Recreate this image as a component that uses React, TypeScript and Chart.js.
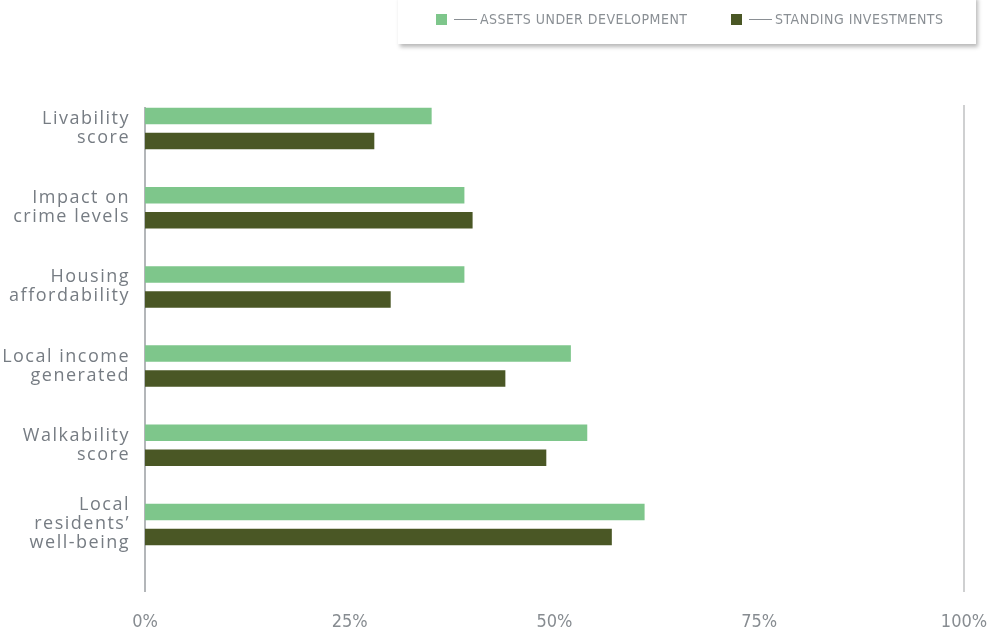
import React, { useEffect, useRef } from "react";
import { Chart, registerables } from "chart.js";

Chart.register(...registerables);

const categories: string[][] = [
  ["Livability", "score"],
  ["Impact on", "crime levels"],
  ["Housing", "affordability"],
  ["Local income", "generated"],
  ["Walkability", "score"],
  ["Local", "residents’", "well-being"],
];
const assetsUnderDevelopment = [35, 39, 39, 52, 54, 61];
const standingInvestments = [28, 40, 30, 44, 49, 57];
const xTicks = [0, 25, 50, 75, 100];
const seriesNames = ["ASSETS UNDER DEVELOPMENT", "STANDING INVESTMENTS"];
const seriesColors = ["#7ec68b", "#4a5725"];

const LABEL_COLOR = "#767c83";

const decorPlugin = {
  id: "decor",
  beforeDatasetsDraw(chart: any) {
    const { ctx, chartArea, scales } = chart;
    const x0 = scales.x.getPixelForValue(0);
    const x1 = scales.x.getPixelForValue(100);
    ctx.save();
    ctx.lineWidth = 1.5;
    ctx.strokeStyle = "#9a9ea2";
    ctx.beginPath();
    ctx.moveTo(x0, chartArea.top + 18);
    ctx.lineTo(x0, chartArea.bottom + 28);
    ctx.stroke();
    ctx.lineWidth = 2;
    ctx.strokeStyle = "#cfd0d1";
    ctx.beginPath();
    ctx.moveTo(x1, chartArea.top + 16);
    ctx.lineTo(x1, chartArea.bottom + 28);
    ctx.stroke();
    ctx.restore();
  },
  afterDraw(chart: any) {
    const { ctx, chartArea, scales } = chart;
    const y = scales.y;
    ctx.save();
    ctx.font = '18px "Open Sans", sans-serif';
    (ctx as any).letterSpacing = "1.5px";
    ctx.fillStyle = LABEL_COLOR;
    ctx.textAlign = "right";
    ctx.textBaseline = "alphabetic";
    const lh = 19;
    categories.forEach((lines, i) => {
      const c = y.getPixelForValue(i);
      const n = lines.length;
      lines.forEach((line, j) => {
        const by = c + (j - (n - 1) / 2) * lh + 5;
        ctx.fillText(line, chartArea.left - 15, by);
      });
    });
    ctx.restore();
  },
};

export default function App() {
  const ref = useRef<HTMLCanvasElement | null>(null);

  useEffect(() => {
    document.body.style.margin = "0";
    const canvas = ref.current;
    if (!canvas) return;
    const chart = new Chart(canvas, {
      type: "bar",
      data: {
        labels: categories.map((c) => c.join(" ")),
        datasets: [
          {
            label: seriesNames[0],
            data: assetsUnderDevelopment,
            backgroundColor: seriesColors[0],
            categoryPercentage: 0.632,
            barPercentage: 0.66,
          },
          {
            label: seriesNames[1],
            data: standingInvestments,
            backgroundColor: seriesColors[1],
            categoryPercentage: 0.632,
            barPercentage: 0.66,
          },
        ],
      },
      options: {
        indexAxis: "y",
        responsive: false,
        animation: false,
        layout: { padding: { top: 89, right: 28, left: 0, bottom: 0 } },
        plugins: {
          legend: { display: false },
          tooltip: { enabled: false },
        },
        scales: {
          x: {
            min: 0,
            max: 100,
            afterBuildTicks(scale: any) {
              scale.ticks = xTicks.map((v) => ({ value: v }));
            },
            afterFit(scale: any) {
              scale.height = 71;
              scale.paddingLeft = 0;
              scale.paddingRight = 0;
            },
            grid: { display: false },
            border: { display: false },
            ticks: {
              padding: 40,
              color: "#878c91",
              font: { family: '"Liberation Sans Narrow", "DejaVu Sans Condensed", sans-serif', size: 18 },
              callback: (v: any) => v + "%",
              maxRotation: 0,
            },
          },
          y: {
            afterFit(scale: any) {
              scale.width = 145;
              scale.paddingTop = 0;
              scale.paddingBottom = 0;
            },
            grid: { display: false },
            border: { display: false },
            ticks: { display: false },
          },
        },
      },
      plugins: [decorPlugin],
    });
    return () => chart.destroy();
  }, []);

  const legendText: React.CSSProperties = {
    fontFamily: '"Liberation Sans Narrow", "DejaVu Sans Condensed", sans-serif',
    fontSize: 14,
    letterSpacing: "0.5px",
    color: "#8a8f94",
    whiteSpace: "nowrap",
  };
  const dash: React.CSSProperties = {
    display: "inline-block",
    width: 23,
    height: 1,
    background: "#8a8f94",
    margin: "0 3px 0 7px",
    verticalAlign: "middle",
  };
  const sq = (c: string): React.CSSProperties => ({
    display: "inline-block",
    width: 11,
    height: 11,
    background: c,
    verticalAlign: "middle",
  });

  return (
    <div style={{ position: "relative", width: 992, height: 635, background: "#fff", overflow: "hidden" }}>
      <canvas ref={ref} width={992} height={635} style={{ display: "block" }} />
      <div
        style={{
          position: "absolute",
          left: 398,
          top: -4,
          width: 578,
          height: 48,
          background: "#fff",
          boxShadow: "2px 3px 4px rgba(0,0,0,0.28)",
        }}
      >
        <div style={{ position: "absolute", left: 38, top: 15, display: "flex", alignItems: "center", ...legendText }}>
          <span style={sq(seriesColors[0])} />
          <span style={dash} />
          <span>{seriesNames[0]}</span>
        </div>
        <div style={{ position: "absolute", left: 333, top: 15, display: "flex", alignItems: "center", ...legendText }}>
          <span style={sq(seriesColors[1])} />
          <span style={dash} />
          <span>{seriesNames[1]}</span>
        </div>
      </div>
    </div>
  );
}
